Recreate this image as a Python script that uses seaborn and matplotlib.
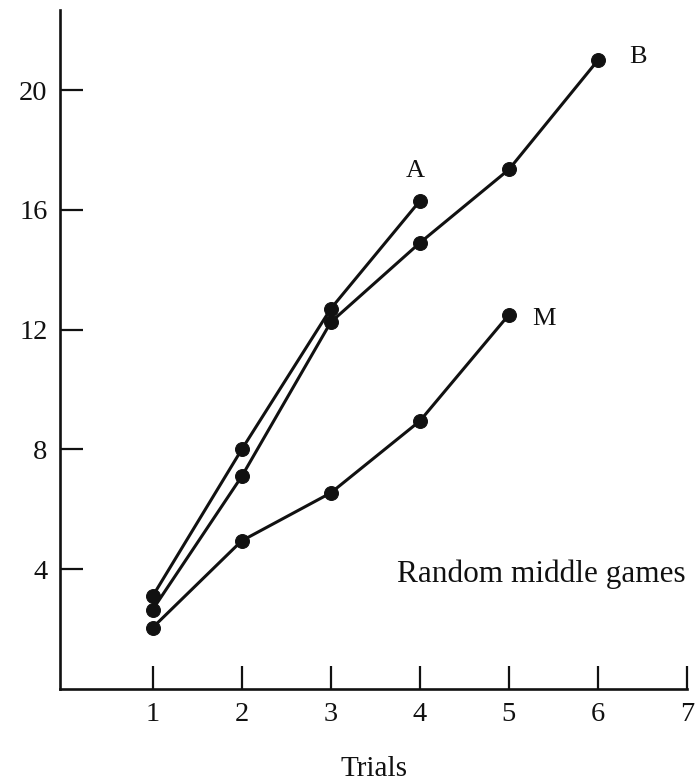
import pandas as pd
import numpy as np
import matplotlib
matplotlib.use('Agg')
import matplotlib.pyplot as plt
import seaborn as sns

# data
trials_a = [1, 2, 3, 4]
values_a = [3.1, 8.0, 12.7, 16.3]
trials_b = [1, 2, 3, 4, 5, 6]
values_b = [2.65, 7.1, 12.25, 14.9, 17.35, 21.0]
trials_m = [1, 2, 3, 4, 5]
values_m = [2.05, 4.95, 6.55, 8.95, 12.5]

x_ticks = [1, 2, 3, 4, 5, 6, 7]
y_ticks = [4, 8, 12, 16, 20]

df = pd.concat([
    pd.DataFrame({'Trials': trials_a, 'value': values_a, 'series': 'A'}),
    pd.DataFrame({'Trials': trials_b, 'value': values_b, 'series': 'B'}),
    pd.DataFrame({'Trials': trials_m, 'value': values_m, 'series': 'M'}),
], ignore_index=True)

sns.set_style('ticks')
plt.rcParams['font.family'] = ['Liberation Serif', 'DejaVu Serif']
plt.rcParams['text.color'] = '#111111'

fig = plt.figure(figsize=(6.97, 7.83), dpi=100)
ax = fig.add_axes([0.0861, 0.120, 0.8996, 0.867])

sns.lineplot(data=df, x='Trials', y='value', hue='series',
             palette={'A': '#111111', 'B': '#111111', 'M': '#111111'},
             marker='o', markersize=10, markeredgecolor='#111111',
             linewidth=2.2, legend=False, sort=False, ax=ax)

# series labels
ax.text(3.95, 17.3, 'A', fontsize=19, ha='center', va='center')
ax.text(6.45, 21.1, 'B', fontsize=19, ha='center', va='center')
ax.text(5.39, 12.35, 'M', fontsize=19, ha='center', va='center')
ax.text(5.36, 3.85, 'Random middle games', fontsize=22.5, ha='center', va='center')

ax.set_xlim(-0.04, 7.0)
ax.set_ylim(0, 22.67)
ax.set_xticks(x_ticks)
ax.set_yticks(y_ticks)
ax.tick_params(direction='in', length=16.5, width=1.6, labelsize=20.5, pad=9,
               colors='#111111')
ax.set_xlabel('Trials', fontsize=21, labelpad=21, color='#111111')
ax.set_ylabel('')

sns.despine(ax=ax)
for side in ['left', 'bottom']:
    ax.spines[side].set_linewidth(1.9)
    ax.spines[side].set_color('#111111')

plt.savefig('out.png', dpi=100)
